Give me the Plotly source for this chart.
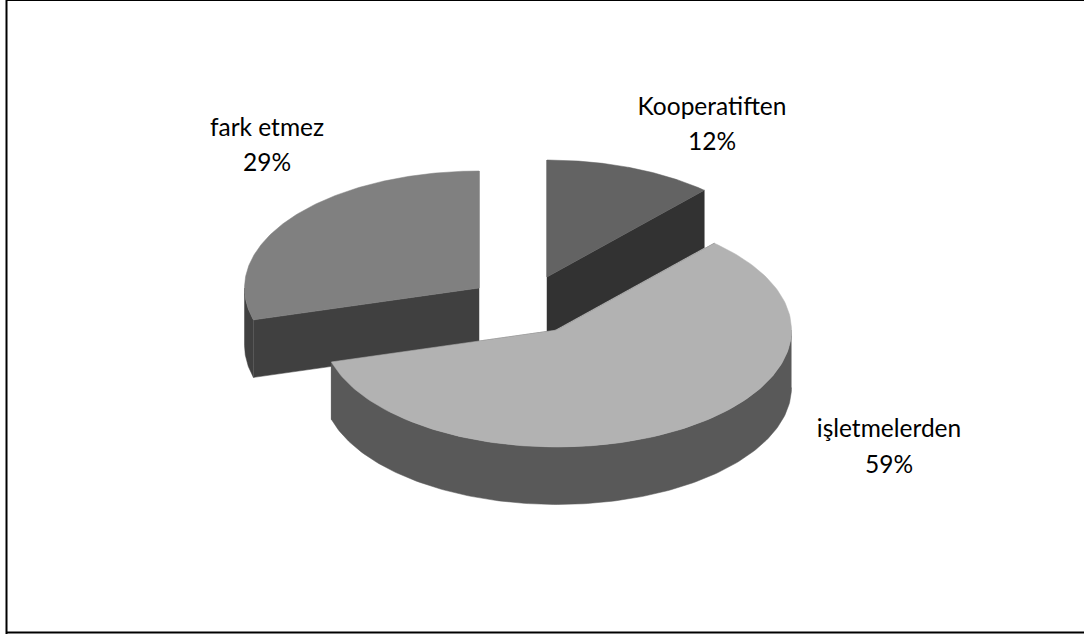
import numpy as np
import plotly.graph_objects as go

categories = ["Kooperatiften", "işletmelerden", "fark etmez"]
values = [11.7, 58.9, 29.4]
labels_pct = ["12%", "59%", "29%"]

top_colors = ["#636363", "#b2b2b2", "#808080"]
wall_colors = ["#323232", "#595959", "#404040"]
centers = [(547, 277), (557, 330), (479, 288)]
name_pos = [(712, 109), (889, 431), (267, 129.5)]
pct_pos = [(712, 144), (889, 467), (267, 164.5)]
RX, RY, DEPTH = 234.5, 117, 57.5
draw_order = [2, 0, 1]

shares = np.array(values) / sum(values) * 2 * np.pi
ends = np.cumsum(shares)
starts = ends - shares


def rim(c, a, b, n=160):
    t = np.linspace(a, b, n)
    return c[0] + RX * np.sin(t), c[1] - RY * np.cos(t)


fig = go.Figure()


def poly(x, y, color):
    fig.add_trace(go.Scatter(
        x=list(x), y=list(y), mode="lines", fill="toself", fillcolor=color,
        line=dict(color=color, width=0.5), hoverinfo="skip", showlegend=False))


for i in draw_order:
    c = centers[i]
    a, b = starts[i], ends[i]
    for e in (a, b):
        ex, ey = rim(c, e, e, 1)
        poly([c[0], ex[0], ex[0], c[0]],
             [c[1], ey[0], ey[0] + DEPTH, c[1] + DEPTH], wall_colors[i])
    lo, hi = max(a, np.pi / 2), min(b, 3 * np.pi / 2)
    if lo < hi:
        wx, wy = rim(c, lo, hi)
        poly(np.r_[wx, wx[::-1]], np.r_[wy, wy[::-1] + DEPTH], wall_colors[i])
    tx, ty = rim(c, a, b)
    poly(np.r_[c[0], tx, c[0]], np.r_[c[1], ty, c[1]], top_colors[i])

for pos, texts in ((name_pos, categories), (pct_pos, labels_pct)):
    fig.add_trace(go.Scatter(
        x=[p[0] for p in pos], y=[p[1] for p in pos], mode="text",
        text=texts, textposition="middle center",
        textfont=dict(family="Lato, Carlito, sans-serif", size=24.5, color="#000000"),
        hoverinfo="skip", showlegend=False))

border = dict(color="#000000", width=2)
fig.update_layout(
    width=1084, height=634, autosize=False,
    margin=dict(l=0, r=0, t=0, b=0),
    paper_bgcolor="#ffffff", plot_bgcolor="#ffffff",
    xaxis=dict(range=[0, 1084], visible=False, fixedrange=True),
    yaxis=dict(range=[634, 0], visible=False, fixedrange=True),
    shapes=[
        dict(type="line", xref="x", yref="y", x0=6.5, y0=0, x1=6.5, y1=634, line=border),
        dict(type="line", xref="x", yref="y", x0=6, y0=0.5, x1=1084, y1=0.5,
             line=dict(color="#000000", width=1)),
        dict(type="line", xref="x", yref="y", x0=6, y0=632.5, x1=1084, y1=632.5, line=border),
    ],
)
fig.write_html("out.html", config={"displayModeBar": False},
               post_script="document.body.style.margin='0';")
